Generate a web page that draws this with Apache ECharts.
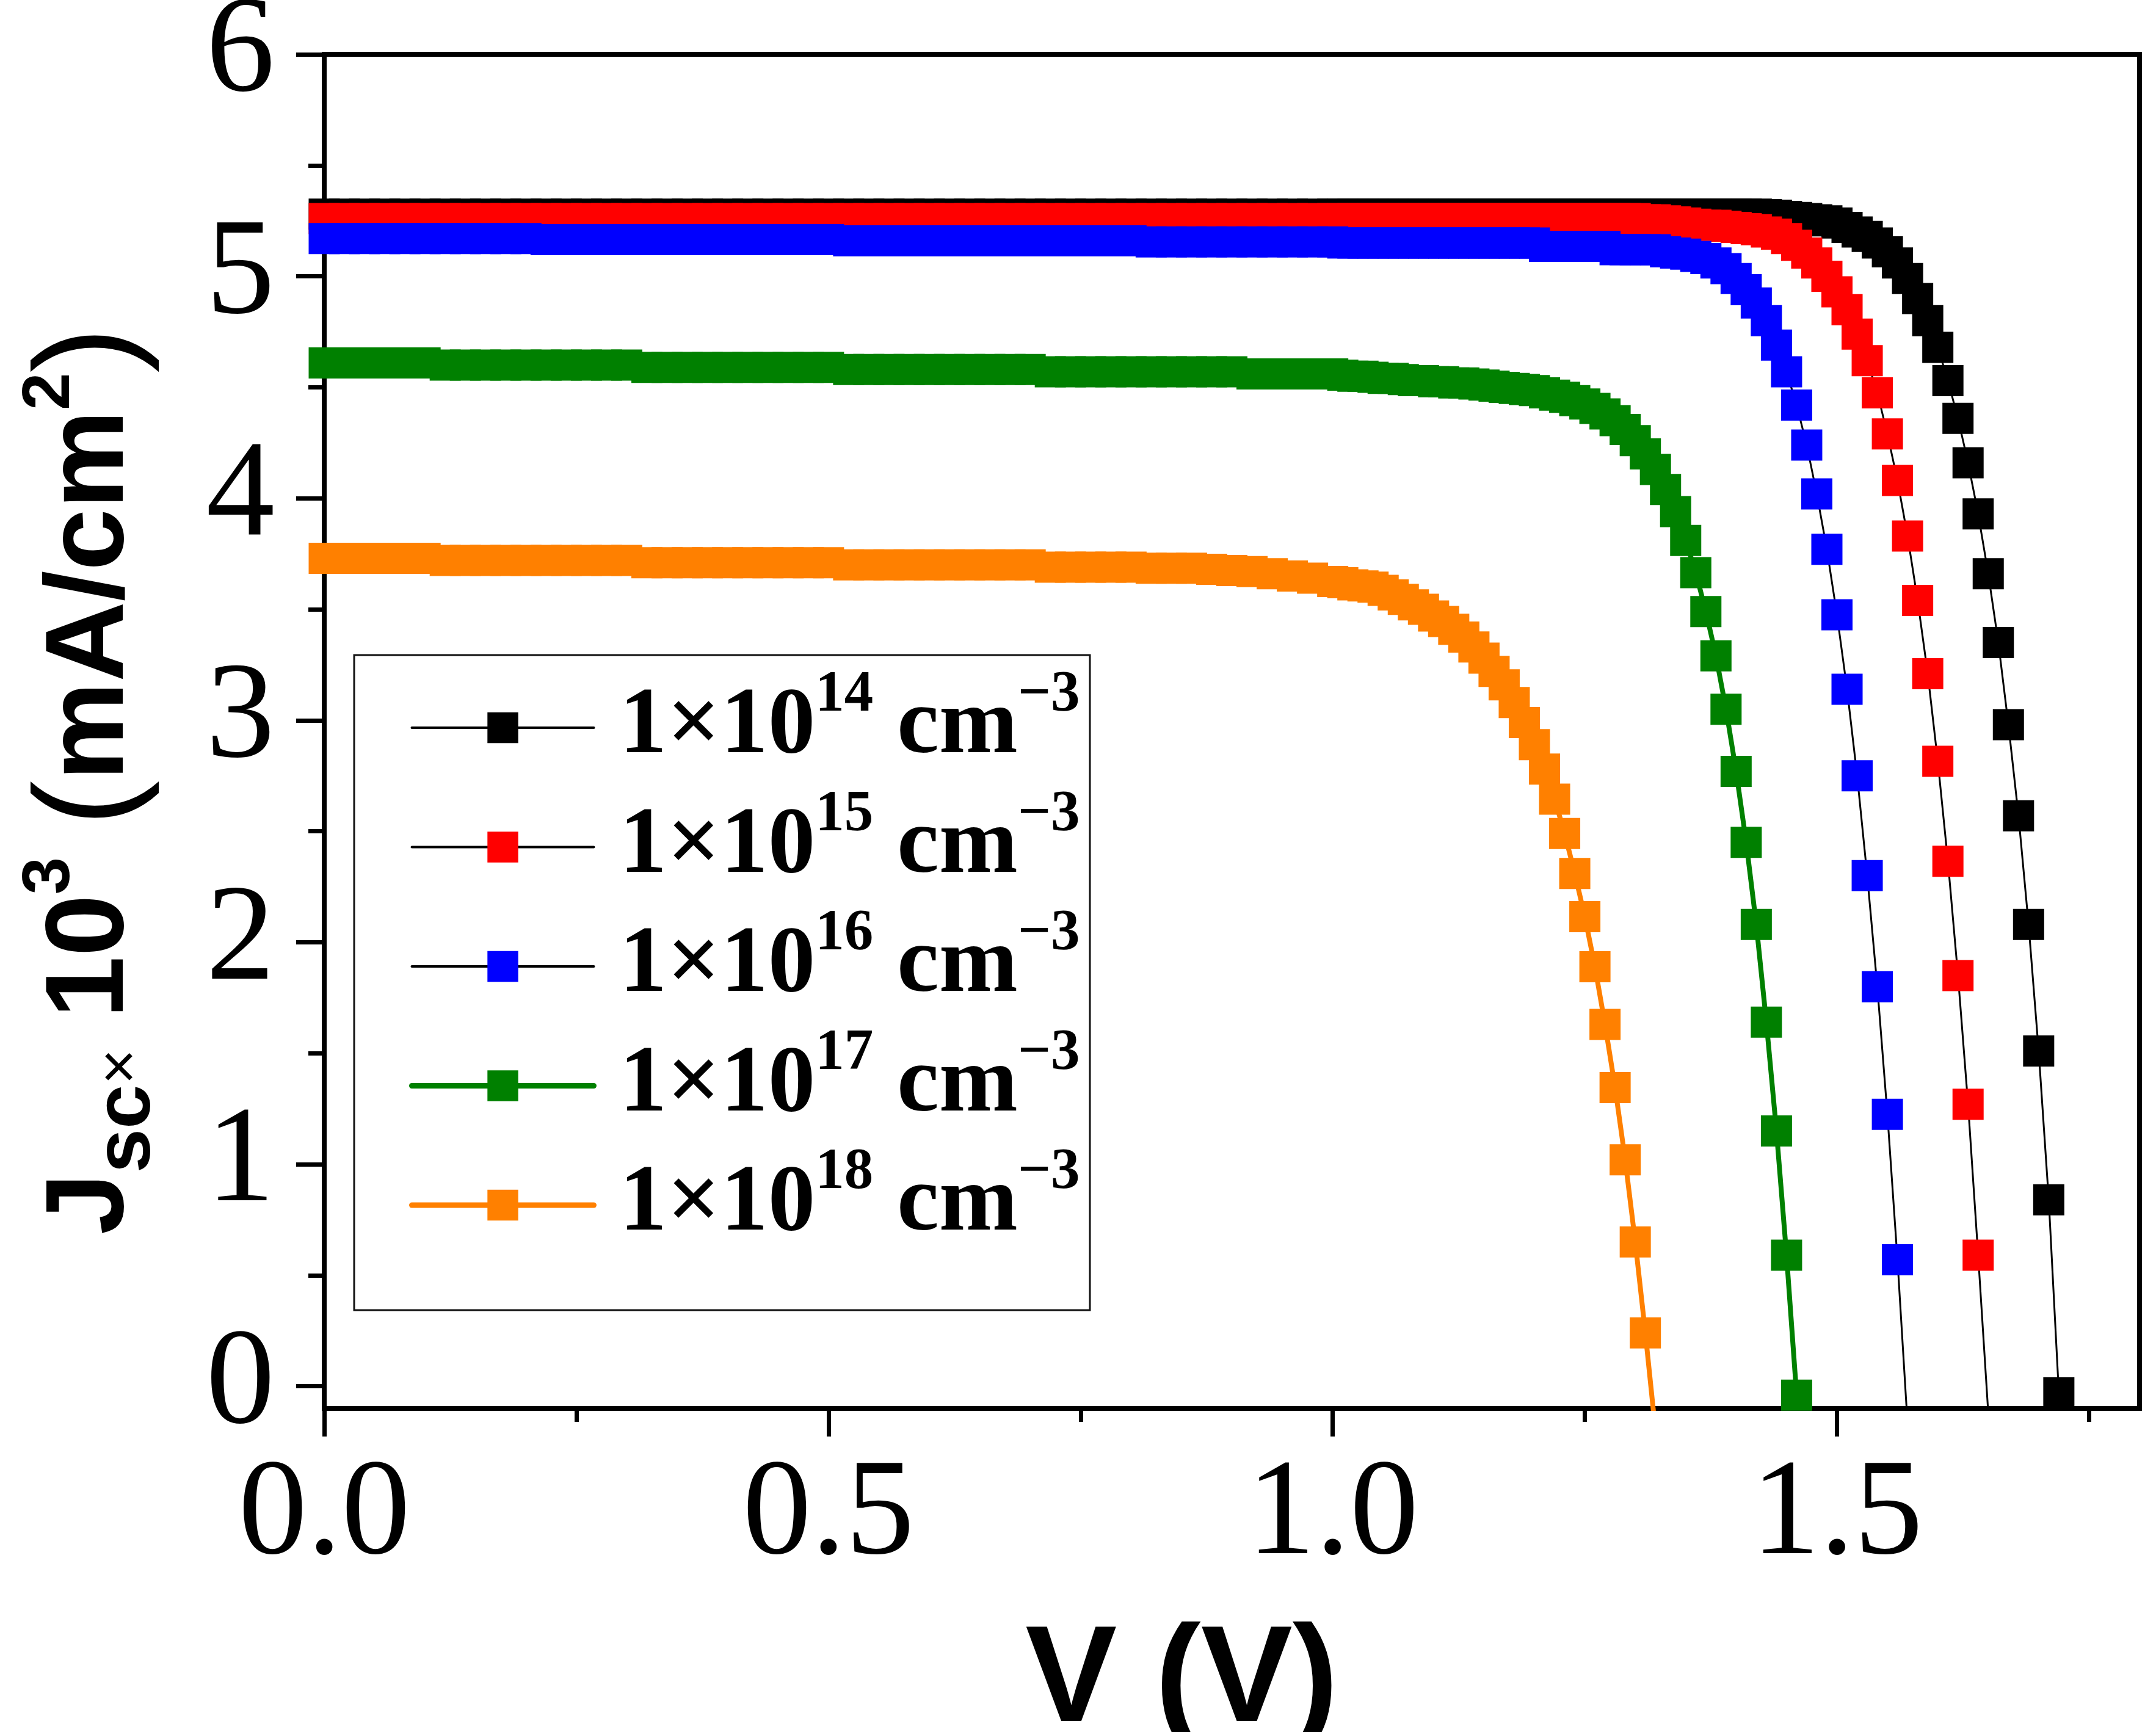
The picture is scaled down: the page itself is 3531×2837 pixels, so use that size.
<!DOCTYPE html>
<html>
<head>
<meta charset="utf-8">
<title>Jsc - V</title>
<script src="https://cdn.jsdelivr.net/npm/echarts@6/dist/echarts.min.js"></script>
<style>
  html, body { margin: 0; padding: 0; background: #fff; }
  #chart { width: 3531px; height: 2837px; }
</style>
</head>
<body>
<div id="chart"></div>
<script>
// voltage grid: 0.02 V steps on the plateau, 0.01 V steps from 1.00 V on
const voltage = [
  0.00, 0.02, 0.04, 0.06, 0.08, 0.10, 0.12, 0.14, 0.16, 0.18,
  0.20, 0.22, 0.24, 0.26, 0.28, 0.30, 0.32, 0.34, 0.36, 0.38,
  0.40, 0.42, 0.44, 0.46, 0.48, 0.50, 0.52, 0.54, 0.56, 0.58,
  0.60, 0.62, 0.64, 0.66, 0.68, 0.70, 0.72, 0.74, 0.76, 0.78,
  0.80, 0.82, 0.84, 0.86, 0.88, 0.90, 0.92, 0.94, 0.96, 0.98,
  1.00,
  1.01, 1.02, 1.03, 1.04, 1.05, 1.06, 1.07, 1.08, 1.09, 1.10,
  1.11, 1.12, 1.13, 1.14, 1.15, 1.16, 1.17, 1.18, 1.19, 1.20,
  1.21, 1.22, 1.23, 1.24, 1.25, 1.26, 1.27, 1.28, 1.29, 1.30,
  1.31, 1.32, 1.33, 1.34, 1.35, 1.36, 1.37, 1.38, 1.39, 1.40,
  1.41, 1.42, 1.43, 1.44, 1.45, 1.46, 1.47, 1.48, 1.49, 1.50,
  1.51, 1.52, 1.53, 1.54, 1.55, 1.56, 1.57, 1.58, 1.59, 1.60,
  1.61, 1.62, 1.63, 1.64, 1.65, 1.66, 1.67, 1.68, 1.69, 1.70,
  1.71, 1.72
];

// Jsc x 10^3 (mA/cm2), one array per doping level
const j1e14 = [
  5.28, 5.28, 5.28, 5.28, 5.28, 5.28, 5.28, 5.28, 5.28, 5.28,
  5.28, 5.28, 5.28, 5.28, 5.28, 5.28, 5.28, 5.28, 5.28, 5.28,
  5.28, 5.28, 5.28, 5.28, 5.28, 5.28, 5.28, 5.28, 5.28, 5.28,
  5.28, 5.28, 5.28, 5.28, 5.28, 5.28, 5.28, 5.28, 5.28, 5.28,
  5.28, 5.28, 5.28, 5.28, 5.28, 5.28, 5.28, 5.28, 5.28, 5.28,
  5.28,
  5.28, 5.28, 5.28, 5.28, 5.28, 5.28, 5.28, 5.28, 5.28, 5.28,
  5.28, 5.28, 5.28, 5.28, 5.28, 5.28, 5.28, 5.28, 5.28, 5.28,
  5.28, 5.28, 5.28, 5.28, 5.28, 5.28, 5.28, 5.28, 5.28, 5.28,
  5.28, 5.28, 5.28, 5.28, 5.28, 5.28, 5.28, 5.28, 5.28, 5.28,
  5.28, 5.28, 5.278, 5.275, 5.27, 5.265, 5.26, 5.255, 5.25, 5.24,
  5.22, 5.20, 5.18, 5.15, 5.11, 5.06, 4.99, 4.90, 4.80, 4.68,
  4.53, 4.36, 4.16, 3.93, 3.66, 3.35, 2.98, 2.57, 2.08, 1.51,
  0.84, -0.03
];

const j1e15 = [
  5.26, 5.26, 5.26, 5.26, 5.26, 5.26, 5.26, 5.26, 5.26, 5.26,
  5.26, 5.26, 5.26, 5.26, 5.26, 5.26, 5.26, 5.26, 5.26, 5.26,
  5.26, 5.26, 5.26, 5.26, 5.26, 5.26, 5.26, 5.26, 5.26, 5.26,
  5.26, 5.26, 5.26, 5.26, 5.26, 5.26, 5.26, 5.26, 5.26, 5.26,
  5.26, 5.26, 5.26, 5.26, 5.26, 5.26, 5.26, 5.26, 5.26, 5.26,
  5.26,
  5.26, 5.26, 5.26, 5.26, 5.26, 5.26, 5.26, 5.26, 5.26, 5.26,
  5.26, 5.26, 5.26, 5.26, 5.26, 5.26, 5.26, 5.26, 5.26, 5.26,
  5.26, 5.26, 5.26, 5.26, 5.26, 5.26, 5.26, 5.26, 5.26, 5.26,
  5.255, 5.255, 5.25, 5.245, 5.24, 5.235, 5.23, 5.23, 5.225, 5.22,
  5.215, 5.21, 5.20, 5.19, 5.17, 5.14, 5.105, 5.06, 5.00, 4.93,
  4.85, 4.74, 4.62, 4.475, 4.29, 4.08, 3.83, 3.54, 3.21, 2.815,
  2.365, 1.85, 1.27, 0.59, -0.12
];

const j1e16 = [
  5.17, 5.17, 5.17, 5.17, 5.17, 5.17, 5.17, 5.17, 5.17, 5.17,
  5.17, 5.165, 5.165, 5.165, 5.165, 5.165, 5.165, 5.165, 5.165, 5.165,
  5.165, 5.165, 5.165, 5.165, 5.165, 5.165, 5.16, 5.16, 5.16, 5.16,
  5.16, 5.16, 5.16, 5.16, 5.16, 5.16, 5.16, 5.16, 5.16, 5.16,
  5.16, 5.155, 5.155, 5.155, 5.155, 5.155, 5.155, 5.155, 5.155, 5.155,
  5.155,
  5.15, 5.15, 5.15, 5.15, 5.15, 5.15, 5.15, 5.15, 5.15, 5.15,
  5.15, 5.15, 5.15, 5.15, 5.15, 5.15, 5.15, 5.15, 5.15, 5.15,
  5.135, 5.135, 5.135, 5.135, 5.135, 5.135, 5.135, 5.12, 5.12, 5.12,
  5.12, 5.12, 5.11, 5.105, 5.10, 5.09, 5.08, 5.06, 5.035, 4.99,
  4.94, 4.88, 4.80, 4.69, 4.57, 4.42, 4.24, 4.02, 3.77, 3.475,
  3.14, 2.75, 2.30, 1.80, 1.225, 0.57, -0.17
];

const j1e17 = [
  4.61, 4.61, 4.61, 4.61, 4.61, 4.61, 4.60, 4.60, 4.60, 4.60,
  4.60, 4.60, 4.60, 4.60, 4.60, 4.60, 4.59, 4.59, 4.59, 4.59,
  4.59, 4.59, 4.59, 4.59, 4.59, 4.59, 4.58, 4.58, 4.58, 4.58,
  4.58, 4.58, 4.58, 4.58, 4.58, 4.58, 4.57, 4.57, 4.57, 4.57,
  4.57, 4.57, 4.57, 4.57, 4.57, 4.57, 4.56, 4.56, 4.56, 4.56,
  4.56,
  4.555, 4.55, 4.55, 4.545, 4.54, 4.54, 4.535, 4.53, 4.53, 4.525,
  4.525, 4.52, 4.52, 4.515, 4.51, 4.505, 4.50, 4.495, 4.49, 4.485,
  4.475, 4.465, 4.455, 4.44, 4.425, 4.405, 4.38, 4.35, 4.31, 4.26,
  4.20, 4.13, 4.04, 3.94, 3.81, 3.665, 3.49, 3.29, 3.05, 2.77,
  2.45, 2.08, 1.64, 1.15, 0.59, -0.04
];

const j1e18 = [
  3.73, 3.73, 3.73, 3.73, 3.73, 3.73, 3.72, 3.72, 3.72, 3.72,
  3.72, 3.72, 3.72, 3.72, 3.72, 3.72, 3.71, 3.71, 3.71, 3.71,
  3.71, 3.71, 3.71, 3.71, 3.71, 3.71, 3.70, 3.70, 3.70, 3.70,
  3.70, 3.70, 3.70, 3.70, 3.70, 3.70, 3.69, 3.69, 3.69, 3.69,
  3.69, 3.685, 3.685, 3.685, 3.68, 3.675, 3.67, 3.66, 3.65, 3.64,
  3.625,
  3.62, 3.61, 3.605, 3.60, 3.585, 3.565, 3.545, 3.52, 3.50, 3.47,
  3.445, 3.41, 3.375, 3.33, 3.28, 3.22, 3.16, 3.08, 2.99, 2.89,
  2.78, 2.645, 2.49, 2.31, 2.115, 1.89, 1.63, 1.345, 1.02, 0.65,
  0.24, -0.2
];

const exponents = ['14', '15', '16', '17', '18'];
const markerColors = ['#000000', '#ff0000', '#0000ff', '#008000', '#ff8000'];
const lineColors = ['#000000', '#000000', '#000000', '#008000', '#ff8000'];
const lineWidths = [3, 3, 3, 8, 8];
const currents = [j1e14, j1e15, j1e16, j1e17, j1e18];

const xMajor = [0, 0.5, 1.0, 1.5];
const xMinor = [0.25, 0.75, 1.25, 1.75];
const yMajor = [0, 1, 2, 3, 4, 5, 6];
const yMinor = [0.5, 1.5, 2.5, 3.5, 4.5, 5.5];

const serif = '"Liberation Serif", "Times New Roman", serif';
const sans = '"Liberation Sans", Arial, sans-serif';

const names = exponents.map(e => '1e' + e);

const series = currents.map((j, k) => ({
  name: names[k],
  type: 'line',
  data: j.map((y, i) => [voltage[i], y]),
  symbol: 'rect',
  symbolSize: 51,
  showSymbol: true,
  showAllSymbol: true,
  itemStyle: { color: markerColors[k] },
  lineStyle: { color: lineColors[k], width: lineWidths[k] },
  emphasis: { disabled: true },
  clip: true,
  xAxisIndex: 0,
  yAxisIndex: 0
}));

const chart = echarts.init(document.getElementById('chart'));

chart.setOption({
  backgroundColor: '#ffffff',
  animation: false,
  grid: {
    left: 531, right: 27, top: 89, bottom: 530,
    show: true, borderColor: '#000', borderWidth: 8,
    containLabel: false,
    outerBoundsMode: 'none'
  },
  legend: {
    orient: 'vertical',
    left: 670, top: 1092,
    padding: 0,
    itemWidth: 298, itemHeight: 63, itemGap: 18,
    selectedMode: false,
    data: names.map((n, k) => ({
      name: n,
      itemStyle: { color: markerColors[k] },
      lineStyle: { color: lineColors[k], width: lineWidths[k] + 1, cap: 'round' }
    })),
    formatter: function (name) {
      const e = exponents[names.indexOf(name)];
      return '{g| }{m|1×10}{s|' + e + '}{m| cm}{s|−3}';
    },
    textStyle: {
      color: '#000',
      rich: {
        g: { width: 37 },
        m: { fontFamily: serif, fontWeight: 'bold', fontSize: 155, lineHeight: 200, color: '#000' },
        s: { fontFamily: serif, fontWeight: 'bold', fontSize: 95, lineHeight: 95, verticalAlign: 'top', color: '#000' }
      }
    }
  },
  graphic: [{
    type: 'rect',
    shape: { x: 580, y: 1073, width: 1205, height: 1073 },
    style: { fill: 'none', stroke: '#111', lineWidth: 3 },
    z: 1
  }],
  xAxis: [{
    type: 'value', min: 0, max: 1.8, position: 'bottom',
    axisLine: { onZero: false, lineStyle: { color: '#000', width: 8 } },
    axisTick: { customValues: xMajor, length: 46, lineStyle: { color: '#000', width: 7 } },
    axisLabel: {
      customValues: xMajor,
      formatter: v => v.toFixed(1),
      fontFamily: serif, fontSize: 225, color: '#000', margin: 65, lineHeight: 225
    },
    splitLine: { show: false },
    name: 'V (V)',
    nameLocation: 'middle',
    nameGap: 337,
    nameTextStyle: {
      fontFamily: sans, fontWeight: 'bold', fontSize: 225, color: '#000',
      lineHeight: 225, padding: [0, 164, 0, 0]
    }
  }, {
    type: 'value', min: 0, max: 1.8, position: 'bottom',
    axisLine: { show: false, onZero: false },
    axisTick: { customValues: xMinor, length: 22, lineStyle: { color: '#000', width: 7 } },
    axisLabel: { show: false },
    splitLine: { show: false }
  }],
  yAxis: [{
    type: 'value', min: -0.1, max: 6, position: 'left',
    axisLine: { show: true, onZero: false, lineStyle: { color: '#000', width: 8 } },
    axisTick: { show: true, customValues: yMajor, length: 46, lineStyle: { color: '#000', width: 7 } },
    axisLabel: {
      customValues: yMajor,
      formatter: v => String(v),
      fontFamily: serif, fontSize: 225, color: '#000', margin: 81,
      padding: [32, 0, 0, 0]
    },
    splitLine: { show: false },
    name: '{b|J}{sub|sc}{x|×}{b| 10}{sup|3}{b| }{p|(}{b|mA/cm}{sup|2}{p|)}',
    nameLocation: 'middle',
    nameRotate: 90,
    nameGap: 257,
    nameTextStyle: {
      color: '#000',
      padding: [0, 162, 0, 0],
      rich: {
        b: { fontFamily: sans, fontWeight: 'bold', fontSize: 182, lineHeight: 246, color: '#000' },
        sub: { fontFamily: sans, fontWeight: 'bold', fontSize: 130, lineHeight: 130, verticalAlign: 'bottom', color: '#000' },
        x: { fontFamily: sans, fontWeight: 'normal', fontSize: 100, lineHeight: 100, padding: [0, 0, 24, 0], verticalAlign: 'bottom', color: '#000' },
        sup: { fontFamily: sans, fontWeight: 'bold', fontSize: 110, lineHeight: 188, verticalAlign: 'top', color: '#000' },
        p: { fontFamily: sans, fontWeight: 'normal', fontSize: 225, lineHeight: 246, color: '#000' }
      }
    }
  }, {
    type: 'value', min: -0.1, max: 6, position: 'left',
    axisLine: { show: false, onZero: false },
    axisTick: { show: true, customValues: yMinor, length: 26, lineStyle: { color: '#000', width: 7 } },
    axisLabel: { show: false },
    splitLine: { show: false }
  }],
  series: series
});
</script>
</body>
</html>
